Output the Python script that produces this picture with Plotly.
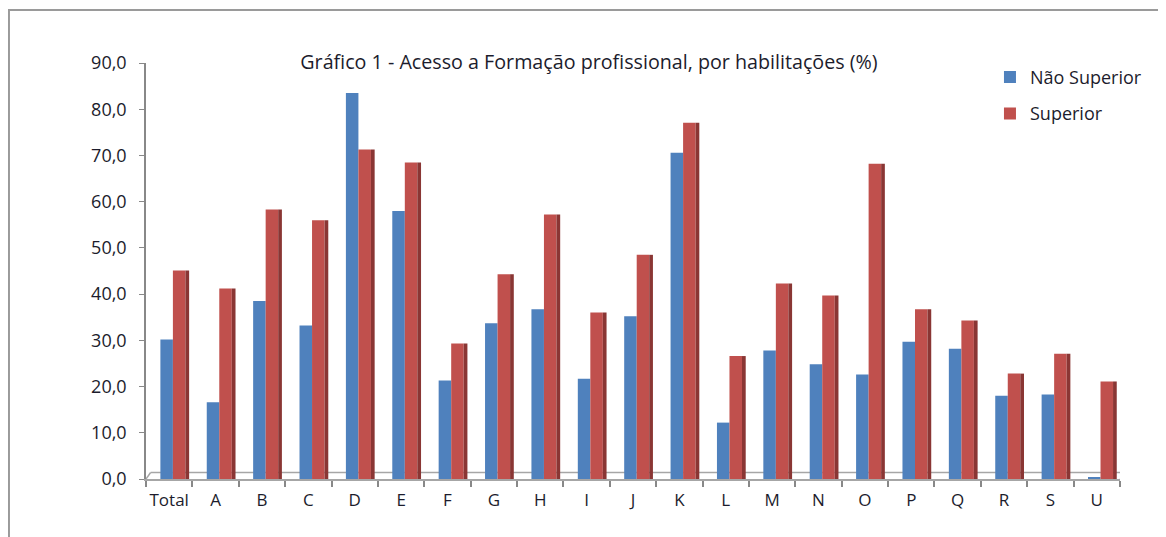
import plotly.graph_objects as go

# Data
categorias = ['Total', 'A', 'B', 'C', 'D', 'E', 'F', 'G', 'H', 'I', 'J',
              'K', 'L', 'M', 'N', 'O', 'P', 'Q', 'R', 'S', 'U']
nao_superior = [30.2, 16.6, 38.5, 33.2, 83.5, 58.0, 21.3, 33.7, 36.7, 21.7, 35.2,
                70.6, 12.2, 27.8, 24.8, 22.6, 29.7, 28.2, 18.0, 18.3, 0.3]
superior = [45.1, 41.2, 58.3, 56.0, 71.3, 68.5, 29.3, 44.3, 57.2, 36.0, 48.5,
            77.1, 26.6, 42.3, 39.7, 68.2, 36.7, 34.3, 22.8, 27.1, 21.1]

azul, vermelho, lado = '#4F81BD', '#C0504D', '#8A3634'
fonte = 'Open Sans'

fig = go.Figure()
fig.add_trace(go.Bar(x=categorias, y=nao_superior, name='Não Superior',
                     marker=dict(color=azul, line=dict(width=0)),
                     offset=-0.19, width=0.27, legendgroup='a'))
fig.add_trace(go.Bar(x=categorias, y=superior, name='Superior',
                     marker=dict(color=vermelho, line=dict(width=0)),
                     offset=0.08, width=0.27, legendgroup='b'))
# darker side face of the red bars (fake 3D)
fig.add_trace(go.Bar(x=categorias, y=superior, showlegend=False, hoverinfo='skip',
                     marker=dict(color=lado, line=dict(width=0)),
                     offset=0.35, width=0.08))

# floor of the 3D chart and the outer chart frame
cinza = '#A6A6A6'
fig.add_shape(type='line', x0=-0.4, x1=20.75, y0=1.4, y1=1.4, line=dict(color=cinza, width=1.5), layer='below')
fig.add_shape(type='line', x0=-0.5, x1=-0.4, y0=0, y1=1.4, line=dict(color=cinza, width=1.5), layer='below')
fig.add_shape(type='line', x0=20.5, x1=20.75, y0=0, y1=1.4, line=dict(color=cinza, width=1.5), layer='below')
fig.add_shape(type='rect', xref='paper', yref='paper', x0=-0.1407, x1=1.3, y0=-0.3, y1=1.1274,
              line=dict(color='#9A9A9A', width=2))

fig.update_layout(
    width=1158, height=529,
    margin=dict(l=138, r=46, t=55, b=58),
    paper_bgcolor='white', plot_bgcolor='white',
    separators=',.',
    barmode='overlay',
    font=dict(family=fonte, size=18, color='#1c1c2c'),
    title=dict(text='Gráfico 1 - Acesso a Formação profissional, por habilitações (%)',
               x=0.5017, xanchor='center', y=0.898, yanchor='middle',
               font=dict(family=fonte, size=19.7, color='#1c1c2c')),
    legend=dict(x=0.8665, y=1.01, xanchor='left', yanchor='top', tracegroupgap=10,
                font=dict(family=fonte, size=18), bgcolor='rgba(0,0,0,0)'),
    showlegend=True,
)
fig.update_xaxes(type='category', range=[-0.5, 20.5], showline=True, linecolor=cinza, linewidth=2,
                 ticks='outside', tickson='boundaries', ticklen=6, tickcolor='#888', tickwidth=1.5,
                 showgrid=False, ticklabelstandoff=5, tickangle=0, tickfont=dict(size=17))
fig.update_yaxes(range=[0, 90], dtick=10, tickformat='.1f', showline=True, linecolor='#888', linewidth=1.5,
                 ticks='outside', ticklen=5, tickcolor='#888', showgrid=False, zeroline=False,
                 ticklabelstandoff=9, tickfont=dict(size=18))

fig.write_html('out.html')
